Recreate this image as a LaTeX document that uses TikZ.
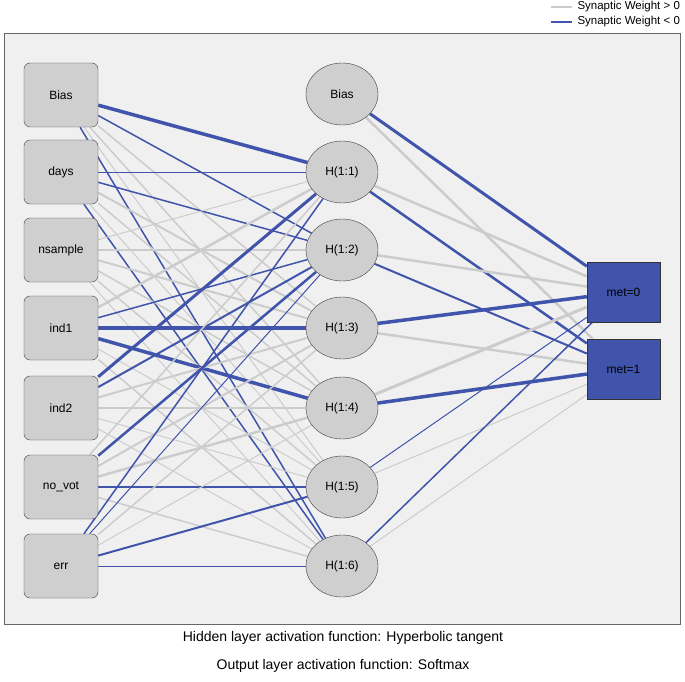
\documentclass[tikz,border=0pt]{standalone}
\usepackage{fontspec}
\setmainfont{Liberation Sans}
\usetikzlibrary{positioning,shapes.geometric,backgrounds}
\definecolor{wblue}{RGB}{63,84,170}
\definecolor{wgray}{RGB}{204,204,204}
\definecolor{panel}{RGB}{240,240,240}
\definecolor{unitgray}{RGB}{207,207,207}

\begin{document}
\begin{tikzpicture}[
    x=1pt, y=-1pt,
    font=\fontsize{12}{14}\selectfont,
    inbox/.style={draw=black!75, fill=unitgray, rounded corners=6pt, minimum width=74pt, minimum height=64pt, inner sep=0pt},
    hid/.style={ellipse, draw=black!75, fill=unitgray, minimum width=72pt, minimum height=62pt, inner sep=0pt},
    outbox/.style={draw=black!80, fill=wblue, minimum width=73pt, minimum height=60pt, inner sep=0pt},
    pw/.style={draw=wgray, line width=#1},
    nw/.style={draw=wblue, line width=#1}
]
    \useasboundingbox (0,0) rectangle (685,682);

    % Input layer
    \node[inbox] (i0) at (61,95) {Bias};
    \node[inbox] (i1) at (61,172) {days};
    \node[inbox] (i2) at (61,250) {nsample};
    \node[inbox] (i3) at (61,328) {ind1};
    \node[inbox] (i4) at (61,408) {ind2};
    \node[inbox] (i5) at (61,487) {no\_vot};
    \node[inbox] (i6) at (61,566) {err};

    % Hidden layer
    \node[hid] (h0) at (342,94) {Bias};
    \node[hid] (h1) at (342,172) {H(1:1)};
    \node[hid] (h2) at (342,250) {H(1:2)};
    \node[hid] (h3) at (342,328) {H(1:3)};
    \node[hid] (h4) at (342,408) {H(1:4)};
    \node[hid] (h5) at (342,487) {H(1:5)};
    \node[hid] (h6) at (342,566) {H(1:6)};

    % Output layer
    \node[outbox] (o0) at (623.5,292) {met=0};
    \node[outbox] (o1) at (623.5,369) {met=1};

    % Legend and captions
    \coordinate (lg0a) at (551,7);
    \coordinate (lg0b) at (572,7);
    \coordinate (lg1a) at (551,22);
    \coordinate (lg1b) at (572,22);
    \draw[pw=1.5pt] (lg0a) -- (lg0b);
    \draw[nw=1.5pt] (lg1a) -- (lg1b);
    \node[anchor=west, font=\fontsize{11.5}{13}\selectfont] (lgpos) at (574,7) {Synaptic Weight > 0};
    \node[anchor=west, font=\fontsize{11.5}{13}\selectfont] (lgneg) at (574,22) {Synaptic Weight < 0};
    \node[font=\fontsize{14}{16}\selectfont] (cap1) at (343,638) {Hidden layer activation function: Hyperbolic tangent};
    \node[font=\fontsize{14}{16}\selectfont] (cap2) at (343,666) {Output layer activation function: Softmax};

    \begin{scope}[on background layer]
    \draw[draw=black!60, fill=panel] (4,33) rectangle (680,624);

    % Weights, input to hidden
    \path
        (i0) edge[nw=3.5pt] (h1) (i0) edge[nw=1.5pt] (h2) (i0) edge[pw=1.5pt] (h3)
        (i0) edge[pw=1.5pt] (h4) (i0) edge[pw=1pt] (h5) (i0) edge[nw=1.5pt] (h6)
        (i1) edge[nw=1pt] (h1) (i1) edge[nw=1.5pt] (h2) (i1) edge[pw=2pt] (h3)
        (i1) edge[pw=1.5pt] (h4) (i1) edge[pw=1pt] (h5) (i1) edge[nw=1.5pt] (h6)
        (i2) edge[pw=1pt] (h1) (i2) edge[pw=2pt] (h2) (i2) edge[pw=2pt] (h3)
        (i2) edge[pw=1.5pt] (h4) (i2) edge[pw=1.5pt] (h5) (i2) edge[pw=1pt] (h6)
        (i3) edge[pw=2.5pt] (h1) (i3) edge[nw=1.5pt] (h2) (i3) edge[nw=3.5pt] (h3)
        (i3) edge[nw=3.5pt] (h4) (i3) edge[pw=1pt] (h5) (i3) edge[pw=1.5pt] (h6)
        (i4) edge[nw=3pt] (h1) (i4) edge[nw=2pt] (h2) (i4) edge[pw=2pt] (h3)
        (i4) edge[pw=1.5pt] (h4) (i4) edge[pw=1pt] (h5) (i4) edge[pw=1pt] (h6)
        (i5) edge[pw=1.5pt] (h1) (i5) edge[nw=2.5pt] (h2) (i5) edge[pw=2pt] (h3)
        (i5) edge[pw=2.5pt] (h4) (i5) edge[nw=2pt] (h5) (i5) edge[pw=1.5pt] (h6)
        (i6) edge[nw=1.5pt] (h1) (i6) edge[nw=1pt] (h2) (i6) edge[pw=1.5pt] (h3)
        (i6) edge[pw=1pt] (h4) (i6) edge[nw=2pt] (h5) (i6) edge[nw=1pt] (h6);

    % Weights, hidden to output
    \path
        (h0) edge[nw=3pt] (o0) (h0) edge[pw=2.5pt] (o1)
        (h1) edge[pw=2.5pt] (o0) (h1) edge[nw=2.5pt] (o1)
        (h2) edge[pw=2.5pt] (o0) (h2) edge[nw=2pt] (o1)
        (h3) edge[nw=3.5pt] (o0) (h3) edge[pw=2.5pt] (o1)
        (h4) edge[pw=3pt] (o0) (h4) edge[nw=3.5pt] (o1)
        (h5) edge[nw=1pt] (o0) (h5) edge[pw=1pt] (o1)
        (h6) edge[nw=1.5pt] (o0) (h6) edge[pw=1pt] (o1);
    \end{scope}
\end{tikzpicture}
\end{document}
